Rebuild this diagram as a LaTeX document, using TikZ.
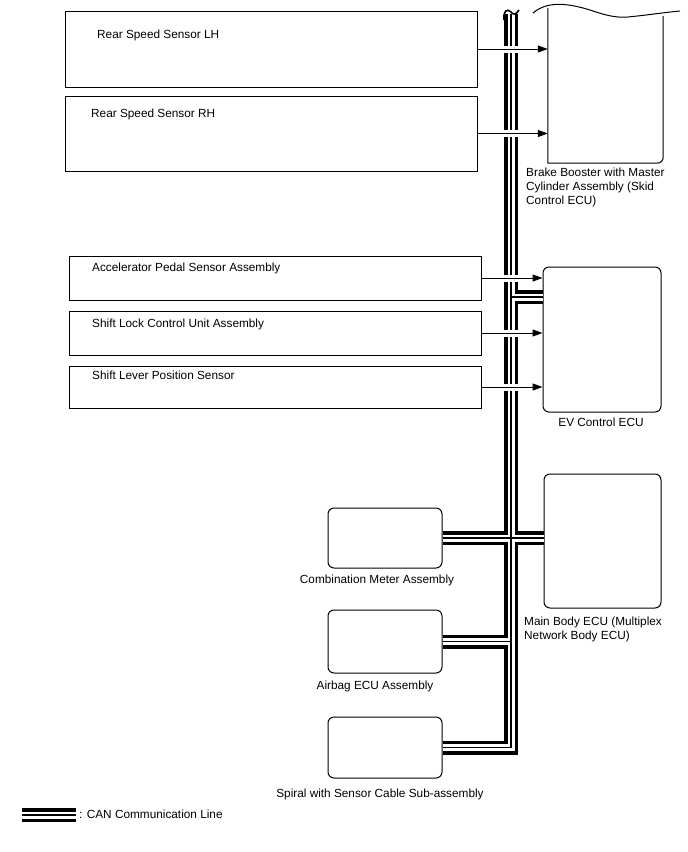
\documentclass[tikz,border=0pt]{standalone}
\usepackage{fontspec}
\setmainfont{Liberation Sans}
\usetikzlibrary{arrows.meta}

\tikzset{
  sensorbox/.style={draw, line width=1pt, inner sep=0pt, minimum width=412pt},
  ecubox/.style={draw, line width=1pt, rounded corners=6pt, inner sep=0pt, minimum width=115pt},
  txt/.style={inner sep=0pt},
  canouter/.style={line width=14pt, line join=miter},
  canwhite/.style={white, line width=7pt, line join=miter},
  caninner/.style={line width=1.2pt, line join=miter},
  sig/.style={line width=1pt, -{Triangle[length=10pt,width=7pt]}},
  gap/.style={white, line width=7pt},
}

\begin{document}
\begin{tikzpicture}[x=1pt, y=-1pt, font=\fontsize{11.8}{14}\selectfont]

    % Fix the page to the reference size
    \useasboundingbox (0,0) rectangle (688,852);

    % Sensor boxes on the left
    \node[sensorbox, minimum height=76pt] (rsl) at (271,49) {};
    \node[sensorbox, minimum height=75pt] (rsr) at (271,133.5) {};
    \node[sensorbox, minimum height=44pt] (aps) at (275,278) {};
    \node[sensorbox, minimum height=44pt] (slc) at (275,333) {};
    \node[sensorbox, minimum height=42pt] (slp) at (275,387) {};

    % Texts of the sensor boxes
    \node[txt, anchor=base west] at (97,38) {Rear Speed Sensor LH};
    \node[txt, anchor=base west] at (91,117) {Rear Speed Sensor RH};
    \node[txt, anchor=base west] at (92,271) {Accelerator Pedal Sensor Assembly};
    \node[txt, anchor=base west] at (92,327) {Shift Lock Control Unit Assembly};
    \node[txt, anchor=base west] at (92,379) {Shift Lever Position Sensor};

    % Brake booster (cut off at the top)
    \node[inner sep=0pt, minimum width=115pt, minimum height=155pt] (brake) at (605.5,85.5) {};
    \draw[line width=1pt] (brake.north west) -- (brake.south west) [rounded corners=6pt]
        -- (brake.south east) [sharp corners] -- ([yshift=-8pt]brake.north east);
    \draw[line width=1pt] (533,13) .. controls (546,2) and (564,2) .. (590,10)
        .. controls (605,15) and (615,18) .. (628,17) .. controls (648,15) and (668,12) .. (680,11);
    \node[txt, anchor=base west, align=left] at (526,204) {Brake Booster with Master\\Cylinder Assembly (Skid\\Control ECU)};

    % ECU boxes
    \node[ecubox, minimum width=118pt, minimum height=145pt] (ev) at (602,339.5) {};
    \node[ecubox, minimum width=117pt, minimum height=134pt] (mainbody) at (602.5,541) {};
    \node[ecubox, minimum width=114pt, minimum height=60pt] (combi) at (385,538) {};
    \node[ecubox, minimum width=114pt, minimum height=63pt] (airbag) at (385,641.5) {};
    \node[ecubox, minimum width=114pt, minimum height=61pt] (spiral) at (385,747.5) {};

    \node[txt, anchor=base] at (601,426) {EV Control ECU};
    \node[txt, anchor=base west, align=left] at (524,639) {Main Body ECU (Multiplex\\Network Body ECU)};
    \node[txt, anchor=base] at (377,583) {Combination Meter Assembly};
    \node[txt, anchor=base] at (375,689) {Airbag ECU Assembly};
    \node[txt, anchor=base] at (380,797) {Spiral with Sensor Cable Sub-assembly};

    % CAN bus
    \coordinate (bustop) at (511,14);
    \coordinate (evtap) at (511,297);
    \coordinate (keyl) at (22,815);
    \coordinate (keyr) at (76,815);
    \foreach \layer in {canouter,canwhite,caninner} {
      \draw[\layer] (bustop) -- (bustop |- spiral.east) -- (spiral.east);
      \draw[\layer] (evtap) -- (evtap -| ev.west);
      \draw[\layer] (combi.east) -- (combi.east -| mainbody.west);
      \draw[\layer] (airbag.east) -- (airbag.east -| bustop);
      \draw[\layer] (keyl) -- (keyr);
    }

    % Break mark on top of the bus
    \draw[line width=1.6pt] (504,20) .. controls (503,11) and (507,8) .. (511,12)
        .. controls (513,15) and (516,15) .. (519,10);

    % Signal lines crossing the bus
    \coordinate (gl) at (499,0);
    \coordinate (gr) at (524,0);
    \foreach \s in {rsl,rsr,aps,slc,slp}
      \draw[gap] (\s.east -| gl) -- (\s.east -| gr);
    \foreach \s in {rsl,rsr}
      \draw[sig] (\s.east) -- (\s.east -| brake.west);
    \foreach \s in {aps,slc,slp}
      \draw[sig] (\s.east) -- (\s.east -| ev.west);

    % Legend
    \node[txt, anchor=base west] at (79,818) {: CAN Communication Line};

\end{tikzpicture}
\end{document}
